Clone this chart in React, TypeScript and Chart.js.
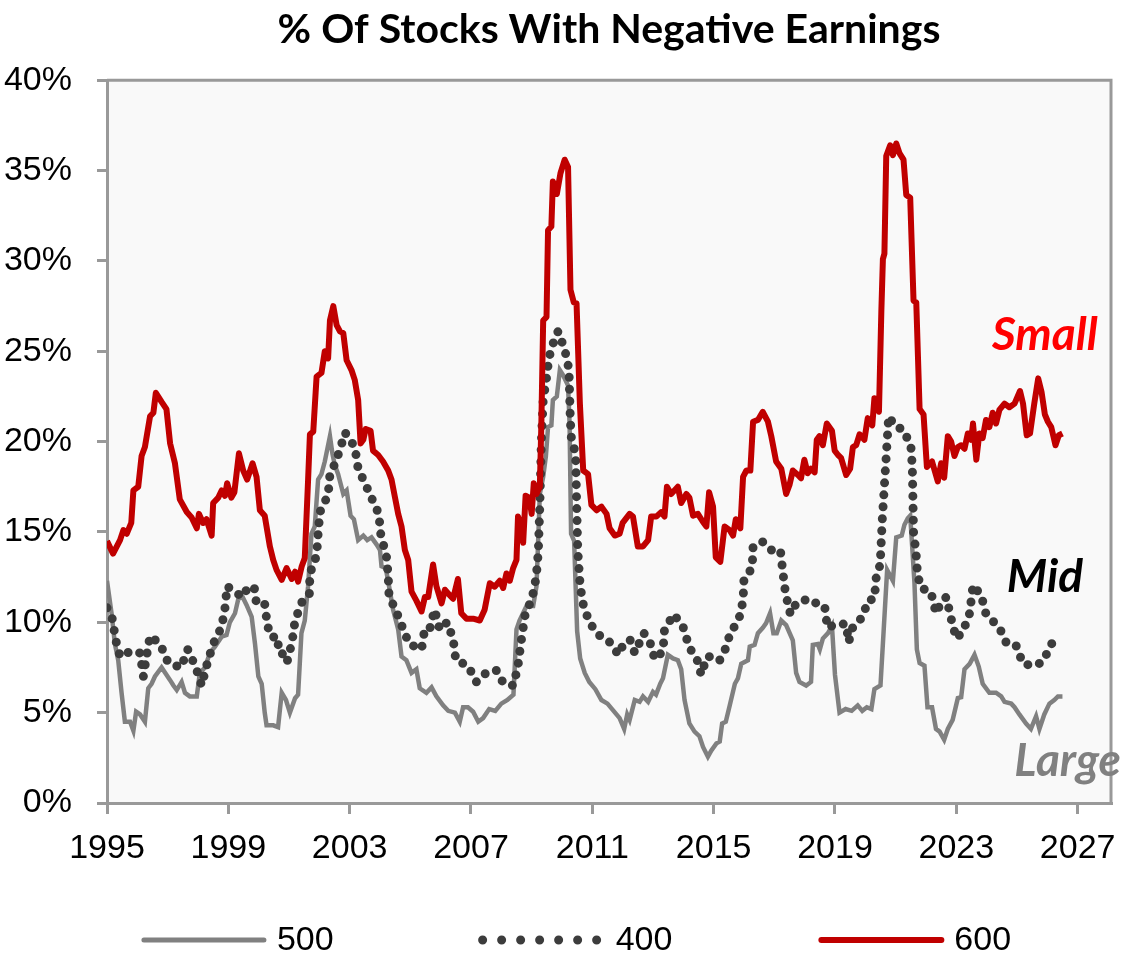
import { useEffect, useRef } from 'react'
import { Chart, registerables } from 'chart.js'

Chart.register(...registerables)

// S&P 500 (large caps)
const largeYears = [
  1995.0, 1995.15, 1995.26, 1995.37, 1995.48, 1995.59, 1995.76, 1995.87, 1995.96, 1996.09,
  1996.25, 1996.36, 1996.47, 1996.58, 1996.8, 1996.96, 1997.08, 1997.19, 1997.3, 1997.46,
  1997.57, 1997.73, 1997.96, 1998.06, 1998.23, 1998.39, 1998.56, 1998.78, 1998.94, 1999.05,
  1999.22, 1999.33, 1999.47, 1999.6, 1999.77, 1999.88, 1999.99, 2000.1, 2000.2, 2000.26,
  2000.48, 2000.64, 2000.76, 2000.9, 2001.03, 2001.2, 2001.3, 2001.41, 2001.52, 2001.63,
  2001.74, 2001.85, 2001.96, 2002.07, 2002.18, 2002.35, 2002.43, 2002.51, 2002.62, 2002.79,
  2002.9, 2003.03, 2003.14, 2003.28, 2003.45, 2003.58, 2003.72, 2003.89, 2004.0, 2004.05,
  2004.19, 2004.32, 2004.43, 2004.6, 2004.71, 2004.87, 2005.04, 2005.2, 2005.31, 2005.53,
  2005.7, 2005.86, 2006.08, 2006.25, 2006.47, 2006.63, 2006.74, 2006.9, 2007.07, 2007.24,
  2007.4, 2007.6, 2007.8, 2008.0, 2008.2, 2008.4, 2008.5, 2008.6, 2008.83, 2009.05,
  2009.16, 2009.27, 2009.38, 2009.47, 2009.54, 2009.65, 2009.7, 2009.83, 2009.93, 2010.03,
  2010.2, 2010.25, 2010.3, 2010.4, 2010.5, 2010.6, 2010.75, 2010.9, 2011.1, 2011.3,
  2011.5, 2011.7, 2011.9, 2012.05, 2012.15, 2012.23, 2012.4, 2012.56, 2012.67, 2012.84,
  2013.0, 2013.1, 2013.24, 2013.33, 2013.49, 2013.66, 2013.82, 2013.93, 2014.04, 2014.2,
  2014.37, 2014.53, 2014.65, 2014.81, 2014.92, 2015.09, 2015.2, 2015.28, 2015.4, 2015.53,
  2015.7, 2015.8, 2015.91, 2016.13, 2016.19, 2016.35, 2016.46, 2016.62, 2016.73, 2016.86,
  2016.97, 2017.08, 2017.23, 2017.39, 2017.61, 2017.72, 2017.83, 2018.05, 2018.21, 2018.27,
  2018.43, 2018.5, 2018.6, 2018.77, 2018.9, 2019.0, 2019.15, 2019.35, 2019.55, 2019.75,
  2019.9, 2020.05, 2020.2, 2020.3, 2020.5, 2020.6, 2020.72, 2020.91, 2021.02, 2021.2,
  2021.29, 2021.4, 2021.48, 2021.56, 2021.62, 2021.7, 2021.79, 2021.95, 2022.05, 2022.2,
  2022.33, 2022.45, 2022.6, 2022.72, 2022.88, 2023.05, 2023.16, 2023.27, 2023.44, 2023.6,
  2023.74, 2023.87, 2024.09, 2024.31, 2024.48, 2024.59, 2024.81, 2024.92, 2025.08, 2025.3,
  2025.46, 2025.63, 2025.74, 2025.9, 2026.07, 2026.23, 2026.35, 2026.5,
]
const largeValues = [
  12.3, 10.5, 8.8, 7.9, 6.1, 4.5, 4.5, 4.0, 5.05, 4.9,
  4.5, 6.35, 6.6, 7.0, 7.5, 7.1, 6.8, 6.5, 6.25, 6.7,
  6.1, 5.9, 5.9, 7.2, 7.5, 8.3, 8.65, 9.2, 9.3, 10.0,
  10.5, 11.3, 11.4, 10.96, 10.3, 8.8, 7.0, 6.6, 5.0, 4.3,
  4.3, 4.2, 6.1, 5.7, 5.0, 5.8, 6.0, 9.4, 10.1, 12.0,
  14.9, 15.3, 17.9, 18.2, 18.9, 20.3, 19.35, 18.7, 18.2, 17.1,
  17.3, 15.9, 15.7, 14.55, 14.8, 14.55, 14.7, 14.3, 14.0, 13.1,
  13.0, 11.8, 10.7, 9.6, 8.1, 7.9, 7.2, 7.4, 6.35, 6.1,
  6.4, 5.9, 5.4, 5.1, 5.0, 4.5, 5.3, 5.3, 5.05, 4.5,
  4.7, 5.2, 5.1, 5.5, 5.7, 6.0, 9.6, 10.1, 10.9, 10.9,
  12.0, 17.1, 18.05, 19.2, 20.8, 20.9, 22.3, 22.5, 23.96, 23.7,
  23.1, 21.0, 14.9, 14.5, 9.5, 8.0, 7.2, 6.7, 6.3, 5.7,
  5.5, 5.1, 4.7, 4.1, 4.9, 4.6, 5.7, 5.6, 5.9, 5.6,
  6.15, 6.0, 6.6, 6.9, 8.2, 8.0, 7.9, 7.4, 5.7, 4.4,
  3.95, 3.7, 3.1, 2.56, 2.9, 3.3, 3.4, 4.4, 4.5, 5.4,
  6.6, 6.9, 7.7, 7.9, 8.65, 8.75, 9.4, 9.7, 9.95, 10.5,
  9.4, 9.4, 10.1, 9.85, 9.0, 7.2, 6.7, 6.5, 6.7, 8.75,
  8.8, 8.5, 9.1, 9.4, 9.8, 7.1, 5.0, 5.2, 5.1, 5.4,
  5.1, 5.3, 5.2, 6.3, 6.5, 9.4, 12.9, 12.3, 14.7, 14.8,
  15.4, 15.75, 15.9, 13.8, 12.2, 8.5, 7.75, 7.6, 5.3, 5.3,
  4.1, 3.95, 3.5, 4.1, 4.6, 5.8, 5.85, 7.4, 7.7, 8.2,
  7.55, 6.6, 6.1, 6.1, 5.9, 5.6, 5.5, 5.3, 4.9, 4.4,
  4.1, 4.8, 4.1, 4.9, 5.5, 5.7, 5.9, 5.9,
]

// S&P 400 (mid caps)
const midYears = [
  1995.0, 1995.2, 1995.26, 1995.43, 1995.78, 1996.09, 1996.2, 1996.3, 1996.42, 1996.75,
  1997.02, 1997.44, 1997.66, 1997.93, 1998.12, 1998.3, 1998.5, 1998.78, 1998.89, 1998.96,
  1999.2, 1999.47, 1999.6, 1999.85, 1999.93, 2000.2, 2000.3, 2000.45, 2000.55, 2000.7,
  2000.85, 2000.95, 2001.1, 2001.2, 2001.42, 2001.67, 2001.69, 2001.91, 2001.96, 2002.02,
  2002.29, 2002.35, 2002.55, 2002.74, 2002.85, 2003.17, 2003.28, 2003.53, 2003.77, 2003.96,
  2004.03, 2004.21, 2004.27, 2004.3, 2004.49, 2004.71, 2004.96, 2005.37, 2005.48, 2005.65,
  2005.8, 2005.97, 2006.21, 2006.41, 2006.5, 2006.9, 2007.18, 2007.5, 2007.83, 2008.08,
  2008.4, 2008.55, 2008.65, 2008.8, 2009.0, 2009.15, 2009.22, 2009.27, 2009.32, 2009.38,
  2009.48, 2009.56, 2009.65, 2009.87, 2010.09, 2010.23, 2010.27, 2010.3, 2010.45, 2010.48,
  2010.52, 2010.6, 2010.7, 2010.9, 2011.2, 2011.45, 2011.6, 2011.86, 2012.0, 2012.24,
  2012.4, 2012.7, 2012.9, 2013.06, 2013.33, 2013.38, 2013.69, 2014.0, 2014.2, 2014.45,
  2014.59, 2014.78, 2015.07, 2015.2, 2015.38, 2015.55, 2015.83, 2015.97, 2016.0, 2016.27,
  2016.3, 2016.62, 2016.9, 2017.2, 2017.28, 2017.37, 2017.53, 2017.74, 2018.16, 2018.43,
  2018.66, 2018.75, 2019.04, 2019.37, 2019.45, 2019.6, 2019.92, 2020.08, 2020.3, 2020.36,
  2020.49, 2020.56, 2020.69, 2020.77, 2021.0, 2021.23, 2021.5, 2021.55, 2021.59, 2021.67,
  2021.72, 2021.83, 2022.16, 2022.33, 2022.5, 2022.67, 2022.83, 2023.0, 2023.22, 2023.44,
  2023.55, 2023.82, 2023.98, 2024.42, 2024.64, 2024.95, 2025.2, 2025.57, 2025.84, 2026.07,
  2026.27,
]
const midValues = [
  10.8, 10.1, 9.2, 8.1, 8.4, 8.3, 7.0, 8.1, 9.25, 8.8,
  7.75, 7.5, 8.5, 7.5, 6.5, 7.7, 8.8, 9.75, 10.8, 12.0,
  11.7, 11.4, 11.8, 12.0, 11.0, 11.0, 9.7, 9.6, 8.7, 8.8,
  7.8, 7.9, 8.9, 10.1, 11.1, 11.5, 12.7, 13.7, 14.9, 16.1,
  17.05, 18.2, 18.9, 19.9, 20.5, 19.7, 18.5, 17.6, 16.7, 16.0,
  14.8, 13.7, 12.6, 11.4, 10.8, 9.85, 8.8, 8.5, 9.7, 9.7,
  10.7, 9.6, 10.0, 9.1, 7.9, 7.6, 6.7, 7.2, 7.35, 6.6,
  6.5, 7.6, 8.9, 10.6, 11.2, 12.5, 13.9, 16.5, 20.0, 22.3,
  23.4, 24.5, 25.2, 26.1, 25.1, 24.0, 21.5, 20.3, 19.3, 16.8,
  14.0, 12.0, 11.0, 10.0, 9.3, 9.1, 8.85, 8.2, 8.7, 9.05,
  8.3, 9.4, 8.9, 7.95, 8.4, 9.6, 10.45, 9.7, 8.6, 7.95,
  7.1, 8.1, 8.1, 7.9, 8.5, 9.4, 10.15, 11.2, 12.4, 13.0,
  14.2, 14.45, 14.0, 14.0, 12.8, 11.6, 10.45, 11.1, 11.3, 11.0,
  10.9, 9.7, 9.9, 9.9, 8.9, 9.8, 10.3, 11.2, 11.3, 12.5,
  13.2, 15.7, 19.2, 21.4, 20.8, 20.7, 19.8, 18.6, 15.0, 13.9,
  12.7, 11.9, 11.7, 10.5, 11.1, 11.4, 10.2, 9.1, 9.5, 10.5,
  12.05, 11.5, 10.45, 9.7, 8.9, 8.8, 7.7, 7.6, 7.8, 8.55,
  9.25,
]

// S&P 600 (small caps)
const smallYears = [
  1995.0, 1995.2, 1995.43, 1995.54, 1995.65, 1995.8, 1995.87, 1996.03, 1996.14, 1996.25,
  1996.42, 1996.53, 1996.61, 1996.8, 1996.96, 1997.08, 1997.24, 1997.4, 1997.63, 1997.79,
  1997.96, 1998.03, 1998.17, 1998.28, 1998.45, 1998.5, 1998.67, 1998.78, 1998.89, 1998.96,
  1999.1, 1999.2, 1999.35, 1999.49, 1999.62, 1999.8, 1999.93, 2000.04, 2000.2, 2000.37,
  2000.48, 2000.59, 2000.76, 2000.92, 2001.09, 2001.2, 2001.3, 2001.42, 2001.52, 2001.63,
  2001.69, 2001.8, 2001.91, 2002.07, 2002.18, 2002.29, 2002.35, 2002.46, 2002.57, 2002.68,
  2002.79, 2002.9, 2003.06, 2003.17, 2003.28, 2003.36, 2003.45, 2003.53, 2003.69, 2003.77,
  2003.94, 2004.1, 2004.27, 2004.38, 2004.49, 2004.6, 2004.71, 2004.82, 2004.93, 2005.04,
  2005.2, 2005.37, 2005.48, 2005.59, 2005.75, 2005.86, 2006.03, 2006.14, 2006.3, 2006.41,
  2006.57, 2006.68, 2006.85, 2007.07, 2007.29, 2007.45, 2007.62, 2007.78, 2007.95, 2008.06,
  2008.17, 2008.28, 2008.39, 2008.5, 2008.55, 2008.63, 2008.72, 2008.8, 2008.92, 2009.0,
  2009.07, 2009.16, 2009.27, 2009.32, 2009.38, 2009.49, 2009.54, 2009.65, 2009.7, 2009.83,
  2009.95, 2010.09, 2010.2, 2010.28, 2010.39, 2010.48, 2010.59, 2010.7, 2010.86, 2010.97,
  2011.14, 2011.3, 2011.47, 2011.57, 2011.74, 2011.9, 2012.0, 2012.23, 2012.34, 2012.5,
  2012.67, 2012.84, 2012.94, 2013.11, 2013.27, 2013.38, 2013.46, 2013.6, 2013.82, 2013.93,
  2014.1, 2014.2, 2014.32, 2014.48, 2014.65, 2014.76, 2014.85, 2014.98, 2015.07, 2015.22,
  2015.36, 2015.53, 2015.64, 2015.73, 2015.88, 2015.97, 2016.08, 2016.21, 2016.3, 2016.46,
  2016.62, 2016.79, 2016.9, 2017.06, 2017.23, 2017.39, 2017.5, 2017.61, 2017.78, 2017.88,
  2017.99, 2018.1, 2018.21, 2018.33, 2018.4, 2018.49, 2018.6, 2018.73, 2018.9, 2018.99,
  2019.1, 2019.2, 2019.37, 2019.5, 2019.59, 2019.7, 2019.81, 2019.97, 2020.08, 2020.23,
  2020.3, 2020.45, 2020.53, 2020.58, 2020.63, 2020.69, 2020.82, 2020.91, 2021.02, 2021.13,
  2021.26, 2021.35, 2021.48, 2021.59, 2021.68, 2021.79, 2021.92, 2022.03, 2022.2, 2022.39,
  2022.5, 2022.6, 2022.72, 2022.83, 2022.94, 2023.05, 2023.16, 2023.27, 2023.38, 2023.49,
  2023.55, 2023.66, 2023.76, 2023.87, 2023.98, 2024.09, 2024.2, 2024.31, 2024.42, 2024.59,
  2024.75, 2024.92, 2025.1, 2025.2, 2025.32, 2025.43, 2025.57, 2025.7, 2025.81, 2025.92,
  2026.02, 2026.13, 2026.2, 2026.27, 2026.38, 2026.5,
]
const smallValues = [
  14.5, 13.8, 14.55, 15.1, 14.9, 15.5, 17.3, 17.5, 19.2, 19.7,
  21.4, 21.6, 22.7, 22.2, 21.8, 19.9, 18.8, 16.8, 16.1, 15.8,
  15.2, 16.0, 15.5, 15.7, 14.8, 16.6, 16.9, 17.3, 17.0, 17.7,
  16.9, 17.2, 19.35, 18.4, 17.9, 18.8, 18.05, 16.2, 15.9, 14.2,
  13.45, 12.9, 12.35, 13.0, 12.4, 12.8, 12.25, 13.1, 13.55, 17.9,
  20.4, 20.55, 23.6, 23.8, 25.0, 24.6, 26.7, 27.5, 26.45, 26.1,
  26.0, 24.5, 23.96, 23.4, 22.3, 19.9, 20.1, 20.7, 20.6, 19.5,
  19.26, 18.9, 18.4, 17.9, 16.95, 16.0, 15.3, 14.0, 13.45, 11.7,
  11.2, 10.6, 11.4, 11.4, 13.2, 12.0, 11.05, 11.8, 11.5, 11.3,
  12.4, 10.5, 10.2, 10.2, 10.1, 10.7, 12.16, 11.97, 12.3, 11.9,
  12.7, 12.3, 13.0, 13.45, 15.85, 15.5, 14.4, 17.0, 16.9, 16.0,
  17.7, 17.1, 17.5, 21.0, 26.7, 26.9, 31.7, 31.9, 34.4, 33.7,
  34.85, 35.6, 35.2, 28.4, 27.7, 27.65, 22.1, 18.4, 18.2, 16.5,
  16.2, 16.4, 16.0, 15.2, 14.8, 14.9, 15.5, 16.0, 15.85, 14.2,
  14.2, 14.55, 15.85, 15.85, 16.1, 15.85, 17.5, 17.1, 17.5, 16.6,
  17.1, 16.9, 15.9, 16.0, 15.55, 15.3, 17.2, 16.4, 13.6, 13.35,
  15.3, 15.1, 14.8, 15.7, 15.2, 18.05, 18.4, 18.4, 21.1, 21.2,
  21.65, 21.1, 20.3, 18.9, 18.5, 17.1, 17.6, 18.4, 18.15, 17.97,
  19.0, 18.25, 18.5, 18.3, 20.1, 20.3, 19.8, 21.0, 20.6, 19.5,
  19.26, 19.1, 18.15, 18.5, 19.7, 19.8, 20.4, 20.1, 21.3, 20.9,
  22.4, 21.65, 27.3, 30.1, 30.4, 35.8, 36.4, 35.85, 36.5, 35.95,
  35.6, 33.65, 33.5, 27.8, 27.7, 21.8, 21.5, 18.6, 18.9, 17.8,
  18.8, 18.0, 20.3, 20.0, 19.2, 19.7, 19.8, 19.6, 20.45, 20.1,
  21.0, 19.0, 20.45, 20.2, 21.2, 20.8, 21.6, 21.0, 21.75, 22.1,
  21.9, 22.1, 22.8, 22.1, 20.35, 20.45, 22.1, 23.5, 22.75, 21.5,
  21.1, 20.8, 20.3, 19.8, 20.35, 20.45,
]

const seriesLabels = ['500', '400', '600']
const xTickYears = [1995, 1999, 2003, 2007, 2011, 2015, 2019, 2023, 2027]
const yTickStep = 5

const chartTitle = '% Of Stocks With Negative Earnings'

const sideLabels = [
  { text: 'Small', year: 2025.92, value: 25.9, color: '#ff0000' },
  { text: 'Mid', year: 2025.92, value: 12.5, color: '#000000' },
  { text: 'Large', year: 2026.67, value: 2.3, color: '#808080' },
]

const axisColor = '#999999'
const tickFont = { family: '"Liberation Sans Narrow", "Arial Narrow", "Liberation Sans", sans-serif', size: 34 }

const toPoints = (years: number[], values: number[]) => years.map((x, i) => ({ x, y: values[i] }))

const legendItems = [
  { label: seriesLabels[0], color: '#808080', width: 5, dash: [] as number[] },
  { label: seriesLabels[1], color: '#3c3c3c', width: 9, dash: [0, 19] },
  { label: seriesLabels[2], color: '#c00000', width: 6, dash: [] as number[] },
]

const decorPlugin = {
  id: 'decor',
  beforeDraw(chart: Chart) {
    const { ctx, chartArea: a } = chart
    ctx.save()
    ctx.fillStyle = '#f9f9f9'
    ctx.fillRect(a.left, a.top, a.right - a.left, a.bottom - a.top)
    ctx.restore()
  },
  afterDraw(chart: Chart) {
    const { ctx, chartArea: a } = chart
    const xs = chart.scales.x
    const ys = chart.scales.y
    ctx.save()
    // top and right frame of the plot area
    ctx.strokeStyle = axisColor
    ctx.lineWidth = 3
    ctx.beginPath()
    ctx.moveTo(a.left, a.top)
    ctx.lineTo(a.right, a.top)
    ctx.lineTo(a.right, a.bottom)
    ctx.stroke()

    // series names on the right
    ctx.font = 'italic bold 46px Lato, sans-serif'
    ctx.textAlign = 'center'
    ctx.textBaseline = 'middle'
    sideLabels.forEach((l) => {
      ctx.fillStyle = l.color
      ctx.fillText(l.text, xs.getPixelForValue(l.year), ys.getPixelForValue(l.value))
    })

    // legend
    const sample = 123
    const gap = 13
    const spacing = 146
    ctx.font = `${tickFont.size}px ${tickFont.family}`
    const widths = legendItems.map((it) => sample + gap + ctx.measureText(it.label).width)
    const total = widths.reduce((s, w) => s + w, 0) + spacing * (legendItems.length - 1)
    let x = 576 - total / 2
    const y = 940
    legendItems.forEach((it, i) => {
      ctx.strokeStyle = it.color
      ctx.lineWidth = it.width
      ctx.lineCap = 'round'
      ctx.setLineDash(it.dash)
      ctx.beginPath()
      ctx.moveTo(x + 3, y)
      ctx.lineTo(x + sample, y)
      ctx.stroke()
      ctx.setLineDash([])
      ctx.fillStyle = '#000'
      ctx.textAlign = 'left'
      ctx.textBaseline = 'middle'
      ctx.fillText(it.label, x + sample + gap, y + 1)
      x += widths[i] + spacing
    })
    ctx.restore()
  },
}

export default function App() {
  const canvasRef = useRef<HTMLCanvasElement>(null)
  const chartRef = useRef<Chart | null>(null)

  useEffect(() => {
    if (!canvasRef.current) return
    if (chartRef.current) chartRef.current.destroy()

    chartRef.current = new Chart(canvasRef.current, {
      type: 'line',
      data: {
        datasets: [
          {
            label: seriesLabels[0],
            data: toPoints(largeYears, largeValues),
            borderColor: '#808080',
            borderWidth: 4.5,
            pointRadius: 0,
            tension: 0,
            order: 2,
          },
          {
            label: seriesLabels[1],
            data: toPoints(midYears, midValues),
            borderColor: '#3c3c3c',
            borderWidth: 9,
            borderDash: [0, 12],
            borderCapStyle: 'round',
            pointRadius: 0,
            tension: 0,
            order: 1,
          },
          {
            label: seriesLabels[2],
            data: toPoints(smallYears, smallValues),
            borderColor: '#c00000',
            borderWidth: 6,
            borderJoinStyle: 'round',
            pointRadius: 0,
            tension: 0,
            order: 0,
          },
        ],
      },
      options: {
        responsive: true,
        maintainAspectRatio: false,
        animation: false,
        layout: { padding: { top: 0, right: 24, bottom: 70, left: 0 } },
        plugins: {
          legend: { display: false },
          tooltip: { enabled: false },
          title: {
            display: true,
            text: chartTitle,
            color: '#000',
            fullSize: false,
            font: { family: 'Lato, sans-serif', size: 41, weight: 'bold', lineHeight: 1.2 },
            padding: { top: 5, bottom: 26 },
          },
        },
        scales: {
          x: {
            type: 'linear',
            min: 1995,
            max: 2028.1,
            afterBuildTicks: (axis: any) => {
              axis.ticks = xTickYears.map((v) => ({ value: v }))
            },
            afterFit: (s: any) => {
              s.height = 90
            },
            ticks: {
              autoSkip: false,
              maxRotation: 0,
              color: '#000',
              font: tickFont,
              padding: 14,
              callback: (v: any) => String(v),
            },
            grid: { drawOnChartArea: false, tickLength: 11, color: axisColor, lineWidth: 3 },
            border: { color: axisColor, width: 3 },
          },
          y: {
            min: 0,
            max: 40,
            afterFit: (s: any) => {
              s.width = 107
            },
            ticks: {
              stepSize: yTickStep,
              color: '#000',
              font: tickFont,
              padding: 25,
              callback: (v: any) => `${v}%`,
            },
            grid: { drawOnChartArea: false, tickLength: 10, color: axisColor, lineWidth: 3 },
            border: { color: axisColor, width: 3 },
          },
        },
      },
      plugins: [decorPlugin],
    })

    return () => {
      if (chartRef.current) {
        chartRef.current.destroy()
        chartRef.current = null
      }
    }
  }, [])

  return (
    <div style={{ position: 'absolute', left: 0, top: 0, width: 1135, height: 963, background: '#fff' }}>
      <canvas ref={canvasRef}></canvas>
    </div>
  )
}
